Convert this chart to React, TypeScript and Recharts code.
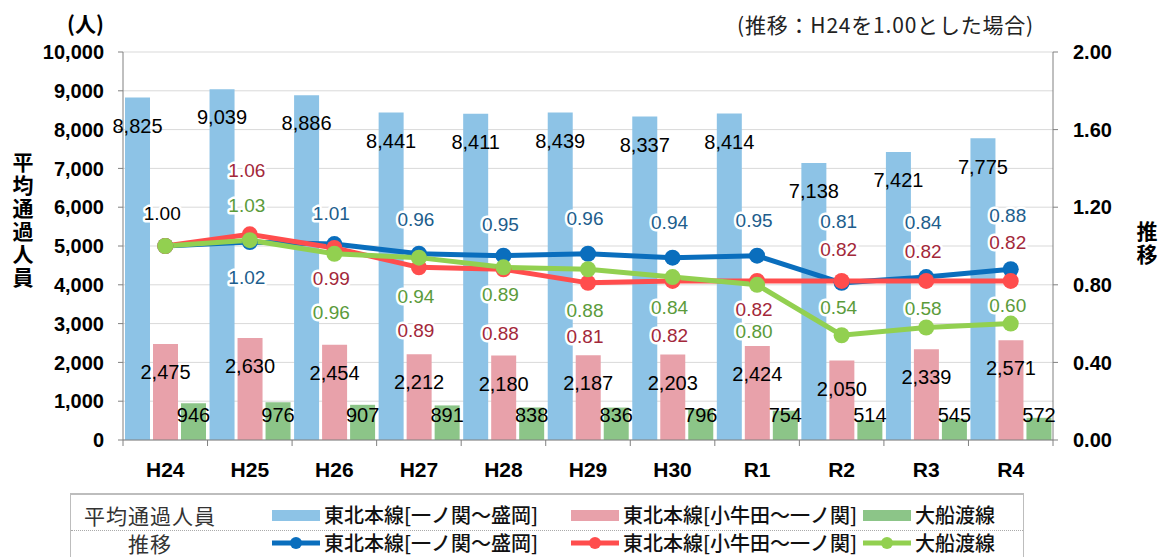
import {
  ComposedChart,
  Bar,
  Line,
  XAxis,
  YAxis,
  CartesianGrid,
  LabelList,
} from 'recharts';

const categories = ['H24', 'H25', 'H26', 'H27', 'H28', 'H29', 'H30', 'R1', 'R2', 'R3', 'R4'];

// 平均通過人員 (人)
const ichinosekiMorioka = [8825, 9039, 8886, 8441, 8411, 8439, 8337, 8414, 7138, 7421, 7775];
const kogotaIchinoseki = [2475, 2630, 2454, 2212, 2180, 2187, 2203, 2424, 2050, 2339, 2571];
const ofunato = [946, 976, 907, 891, 838, 836, 796, 754, 514, 545, 572];

// 推移 (H24 = 1.00)
const ichinosekiMoriokaRatio = [1.0, 1.02, 1.01, 0.96, 0.95, 0.96, 0.94, 0.95, 0.81, 0.84, 0.88];
const kogotaIchinosekiRatio = [1.0, 1.06, 0.99, 0.89, 0.88, 0.81, 0.82, 0.82, 0.82, 0.82, 0.82];
const ofunatoRatio = [1.0, 1.03, 0.96, 0.94, 0.89, 0.88, 0.84, 0.8, 0.54, 0.58, 0.6];

const leftTicks = [0, 1000, 2000, 3000, 4000, 5000, 6000, 7000, 8000, 9000, 10000];
const rightTicks = [0, 0.4, 0.8, 1.2, 1.6, 2.0];

// label offsets from the dot (px), null = no label
const morioLabelDy = [-33, 35, -31, -34, -31, -35, -35, -35, -61, -55, -54];
const kogotaLabelDy = [null, -64, 31, 63, 64, 54, 55, 29, -31, -29, -38];
const ofunatoLabelDy = [null, -35, 59, 39, 27, 41, 30, 47, -28, -19, -18];

const COLORS = {
  barBlue: '#8dc3e6',
  barPink: '#e8a1aa',
  barGreen: '#8cc588',
  lineBlue: '#0a6ebd',
  lineRed: '#ff4d4d',
  lineGreen: '#92d050',
  labelBlue: '#205d8c',
  labelRed: '#a3283a',
  labelGreen: '#5b9b3b',
  axis: '#808080',
  grid: '#d9d9d9',
};

const FONT = "'Liberation Sans', Arial, 'Noto Sans CJK JP', sans-serif";
const JP_FONT = "'Noto Sans CJK JP', 'Liberation Sans', sans-serif";

const WIDTH = 1164;
const CHART_H = 490;
const LEFT_W = 123;
const RIGHT_W = 111;
const AXIS_Y = 440;
const BAND = (WIDTH - LEFT_W - RIGHT_W) / categories.length;

const data = categories.map((c, i) => ({
  name: c,
  a: ichinosekiMorioka[i],
  b: kogotaIchinoseki[i],
  c: ofunato[i],
  ra: ichinosekiMoriokaRatio[i],
  rb: kogotaIchinosekiRatio[i],
  rc: ofunatoRatio[i],
}));

const XTick = (props: any) => {
  const { x, payload, index } = props;
  return (
    <g>
      <line x1={x - BAND / 2} x2={x - BAND / 2} y1={AXIS_Y} y2={AXIS_Y + 6} stroke={COLORS.axis} />
      {index === categories.length - 1 && (
        <line x1={x + BAND / 2} x2={x + BAND / 2} y1={AXIS_Y} y2={AXIS_Y + 6} stroke={COLORS.axis} />
      )}
      <text
        x={x}
        y={AXIS_Y + 29}
        textAnchor="middle"
        dominantBaseline="central"
        fontFamily={FONT}
        fontSize={21}
        fontWeight="bold"
        fill="#000"
      >
        {payload.value}
      </text>
    </g>
  );
};

const makeLineLabel = (dys: (number | null)[], color: string) => (props: any) => {
  const { x, y, value, index } = props;
  const dy = dys[index];
  if (dy == null || x == null) return null;
  return (
    <text
      x={x - 3}
      y={y + dy}
      textAnchor="middle"
      dominantBaseline="central"
      fontFamily={FONT}
      fontSize={19}
      fill={index === 0 ? '#000' : color}
      stroke="#fff"
      strokeWidth={5}
      strokeLinejoin="round"
      paintOrder="stroke"
    >
      {Number(value).toFixed(2)}
    </text>
  );
};

const barLabelStyle = { fontFamily: FONT, fontSize: 20, fill: '#000' };

const LegendRow = ({
  title,
  kind,
  top,
}: {
  title: string;
  kind: 'bar' | 'line';
  top: number;
}) => {
  const items = [
    { label: '東北本線[一ノ関～盛岡]', bar: COLORS.barBlue, line: COLORS.lineBlue, left: 272 },
    { label: '東北本線[小牛田～一ノ関]', bar: COLORS.barPink, line: COLORS.lineRed, left: 571 },
    { label: '大船渡線', bar: COLORS.barGreen, line: COLORS.lineGreen, left: 863 },
  ];
  return (
    <>
      <div
        style={{
          position: 'absolute',
          left: 70,
          width: 160,
          top,
          height: 24,
          lineHeight: '24px',
          textAlign: 'center',
          fontFamily: JP_FONT,
          fontSize: 21,
          letterSpacing: 1,
          color: '#333',
        }}
      >
        {title}
      </div>
      {items.map((it) => (
        <div
          key={it.label}
          style={{
            position: 'absolute',
            left: it.left,
            top,
            height: 24,
            lineHeight: '24px',
            display: 'flex',
            alignItems: 'center',
            fontFamily: JP_FONT,
            fontSize: 20,
            color: '#111',
            whiteSpace: 'nowrap',
          }}
        >
          {kind === 'bar' ? (
            <span style={{ display: 'inline-block', width: 48, height: 11, background: it.bar }} />
          ) : (
            <svg width={48} height={14}>
              <line x1={0} x2={48} y1={7} y2={7} stroke={it.line} strokeWidth={5} />
              <circle cx={24} cy={7} r={6} fill={it.line} />
            </svg>
          )}
          <span style={{ marginLeft: 4, fontWeight: 500 }}>{it.label}</span>
        </div>
      ))}
    </>
  );
};

export default function App() {
  return (
    <div
      style={{
        position: 'absolute',
        left: 0,
        top: 0,
        width: WIDTH,
        height: 557,
        background: '#fff',
        overflow: 'hidden',
      }}
    >
      <div
        style={{
          position: 'absolute',
          left: 67,
          top: 8,
          fontFamily: JP_FONT,
          fontSize: 21,
          fontWeight: 'bold',
          lineHeight: '30px',
        }}
      >
        (人)
      </div>
      <div
        style={{
          position: 'absolute',
          left: 737,
          top: 9,
          fontFamily: JP_FONT,
          fontSize: 21,
          letterSpacing: 0.8,
          lineHeight: '30px',
          color: '#222',
          whiteSpace: 'nowrap',
        }}
      >
        (推移：H24を1.00とした場合)
      </div>
      <div
        style={{
          position: 'absolute',
          left: 11,
          top: 152,
          writingMode: 'vertical-rl',
          fontFamily: JP_FONT,
          fontSize: 21,
          fontWeight: 'bold',
          letterSpacing: 2,
          lineHeight: '24px',
        }}
      >
        平均通過人員
      </div>
      <div
        style={{
          position: 'absolute',
          left: 1135,
          top: 221,
          writingMode: 'vertical-rl',
          fontFamily: JP_FONT,
          fontSize: 21,
          fontWeight: 'bold',
          letterSpacing: 2,
          lineHeight: '24px',
        }}
      >
        推移
      </div>

      <div style={{ position: 'absolute', left: 0, top: 0 }}>
        <ComposedChart
          width={WIDTH}
          height={CHART_H}
          data={data}
          margin={{ top: 52, right: 0, bottom: 10, left: 0 }}
          barGap={3}
        >
          <CartesianGrid yAxisId="left" vertical={false} stroke={COLORS.grid} />
          <XAxis
            dataKey="name"
            height={40}
            tickLine={false}
            axisLine={{ stroke: COLORS.axis }}
            tick={<XTick />}
            interval={0}
          />
          <YAxis
            yAxisId="left"
            width={LEFT_W}
            domain={[0, 10000]}
            ticks={leftTicks}
            tickFormatter={(v: number) => v.toLocaleString('en-US')}
            tick={{ fontFamily: FONT, fontSize: 20, fontWeight: 'bold', fill: '#000' }}
            tickSize={5}
            tickMargin={14}
            axisLine={{ stroke: COLORS.axis }}
            tickLine={{ stroke: COLORS.axis }}
            interval={0}
          />
          <YAxis
            yAxisId="right"
            orientation="right"
            width={RIGHT_W}
            domain={[0, 2]}
            ticks={rightTicks}
            tickFormatter={(v: number) => v.toFixed(2)}
            tick={{ fontFamily: FONT, fontSize: 20, fontWeight: 'bold', fill: '#000' }}
            tickSize={5}
            tickMargin={15}
            axisLine={{ stroke: COLORS.axis }}
            tickLine={{ stroke: COLORS.axis }}
            interval={0}
          />
          <Bar yAxisId="left" dataKey="a" fill={COLORS.barBlue} barSize={25} isAnimationActive={false}>
            <LabelList
              dataKey="a"
              position="insideTop"
              offset={21}
              formatter={(v: any) => Number(v).toLocaleString('en-US')}
              style={barLabelStyle}
            />
          </Bar>
          <Bar yAxisId="left" dataKey="b" fill={COLORS.barPink} barSize={25} isAnimationActive={false}>
            <LabelList
              dataKey="b"
              position="insideTop"
              offset={21}
              formatter={(v: any) => Number(v).toLocaleString('en-US')}
              style={barLabelStyle}
            />
          </Bar>
          <Bar yAxisId="left" dataKey="c" fill={COLORS.barGreen} barSize={25} isAnimationActive={false}>
            <LabelList
              dataKey="c"
              position="insideBottom"
              offset={18}
              formatter={(v: any) => Number(v).toLocaleString('en-US')}
              style={barLabelStyle}
            />
          </Bar>
          <Line
            yAxisId="right"
            type="linear"
            dataKey="ra"
            stroke={COLORS.lineBlue}
            strokeWidth={5}
            dot={{ r: 8, fill: COLORS.lineBlue, stroke: COLORS.lineBlue, strokeWidth: 0 }}
            activeDot={false}
            isAnimationActive={false}
          >
            <LabelList dataKey="ra" content={makeLineLabel(morioLabelDy, COLORS.labelBlue)} />
          </Line>
          <Line
            yAxisId="right"
            type="linear"
            dataKey="rb"
            stroke={COLORS.lineRed}
            strokeWidth={5}
            dot={{ r: 8, fill: COLORS.lineRed, stroke: COLORS.lineRed, strokeWidth: 0 }}
            activeDot={false}
            isAnimationActive={false}
          >
            <LabelList dataKey="rb" content={makeLineLabel(kogotaLabelDy, COLORS.labelRed)} />
          </Line>
          <Line
            yAxisId="right"
            type="linear"
            dataKey="rc"
            stroke={COLORS.lineGreen}
            strokeWidth={5}
            dot={{ r: 8, fill: COLORS.lineGreen, stroke: COLORS.lineGreen, strokeWidth: 0 }}
            activeDot={false}
            isAnimationActive={false}
          >
            <LabelList dataKey="rc" content={makeLineLabel(ofunatoLabelDy, COLORS.labelGreen)} />
          </Line>
        </ComposedChart>
      </div>

      {/* legend table */}
      <div
        style={{
          position: 'absolute',
          left: 70,
          top: 493,
          width: 954,
          height: 80,
          borderTop: '2px solid #bdbdbd',
          borderLeft: '1px solid #bdbdbd',
          borderRight: '1px solid #bdbdbd',
          boxSizing: 'border-box',
        }}
      />
      <div
        style={{
          position: 'absolute',
          left: 71,
          top: 530,
          width: 952,
          borderTop: '1px dotted #aaa',
        }}
      />
      <LegendRow title="平均通過人員" kind="bar" top={503} />
      <LegendRow title="推移" kind="line" top={531} />
    </div>
  );
}
